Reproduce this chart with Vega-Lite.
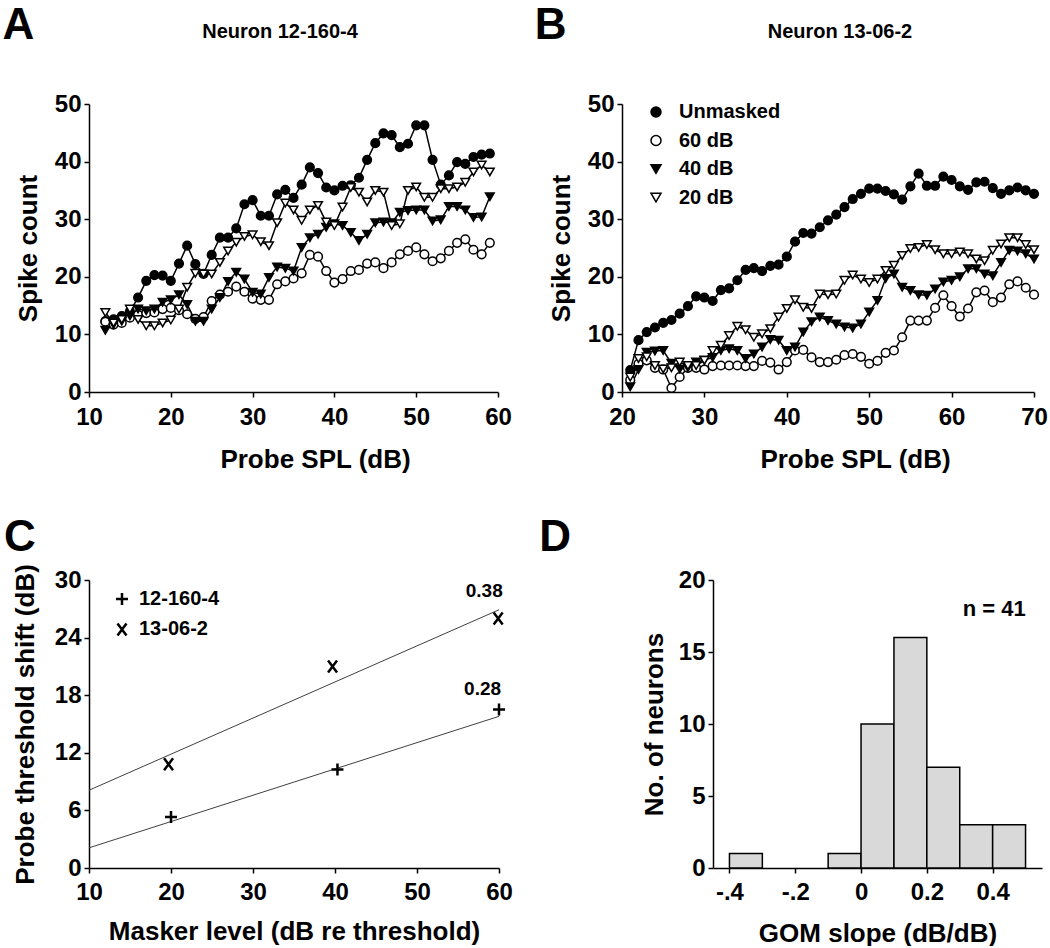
{
"$schema": "https://vega.github.io/schema/vega-lite/v6.json",
"background": "white",
"padding": {"left": 2, "top": 3, "right": 0, "bottom": 0},
"bounds": "flush",
"spacing": 476,
"resolve": {"scale": {"x": "independent", "y": "independent", "shape": "independent", "fill": "independent"}, "legend": {"shape": "independent", "fill": "independent"}},
"config": {
  "font": "Liberation Sans",
  "view": {"stroke": null},
  "axis": {"grid": false, "domainColor": "black", "domainWidth": 1.5, "tickColor": "black", "tickWidth": 1.5, "tickSize": 5, "labelFont": "Liberation Sans", "labelFontSize": 24, "labelFontWeight": "bold", "labelColor": "black", "labelPadding": 3, "labelFlush": false, "labelOverlap": false, "titleFont": "Liberation Sans", "titleFontSize": 26, "titleFontWeight": "bold", "titleColor": "black"},
  "axisX": {"labelPadding": 8},
  "legend": {"labelFont": "Liberation Sans", "labelFontSize": 20, "labelFontWeight": "bold", "labelColor": "black", "padding": 0, "symbolStrokeColor": "black", "symbolStrokeWidth": 1.5, "symbolOpacity": 1},
  "text": {"font": "Liberation Sans", "fontWeight": "bold", "color": "black"}
},
"datasets": {
"A": [
{"s":"Unmasked","x":12,"y":12.3},{"s":"Unmasked","x":13,"y":12.6},{"s":"Unmasked","x":14,"y":13.2},{"s":"Unmasked","x":15,"y":14},{"s":"Unmasked","x":16,"y":16.4},{"s":"Unmasked","x":17,"y":19.3},{"s":"Unmasked","x":18,"y":20.3},{"s":"Unmasked","x":19,"y":20.2},{"s":"Unmasked","x":20,"y":19.3},{"s":"Unmasked","x":21,"y":22.3},{"s":"Unmasked","x":22,"y":25.4},{"s":"Unmasked","x":23,"y":22.2},{"s":"Unmasked","x":24,"y":20.5},{"s":"Unmasked","x":25,"y":23.8},{"s":"Unmasked","x":26,"y":26.8},{"s":"Unmasked","x":27,"y":26.8},{"s":"Unmasked","x":28,"y":28.4},{"s":"Unmasked","x":29,"y":32.6},{"s":"Unmasked","x":30,"y":33.3},{"s":"Unmasked","x":31,"y":30.6},{"s":"Unmasked","x":32,"y":30.6},{"s":"Unmasked","x":33,"y":34.3},{"s":"Unmasked","x":34,"y":35.1},{"s":"Unmasked","x":35,"y":33.7},{"s":"Unmasked","x":36,"y":36},{"s":"Unmasked","x":37,"y":39},{"s":"Unmasked","x":38,"y":38},{"s":"Unmasked","x":39,"y":35.5},{"s":"Unmasked","x":40,"y":35},{"s":"Unmasked","x":41,"y":35.8},{"s":"Unmasked","x":42,"y":35.9},{"s":"Unmasked","x":43,"y":37.2},{"s":"Unmasked","x":44,"y":40.3},{"s":"Unmasked","x":45,"y":43.2},{"s":"Unmasked","x":46,"y":44.9},{"s":"Unmasked","x":47,"y":44.6},{"s":"Unmasked","x":48,"y":42.5},{"s":"Unmasked","x":49,"y":43.1},{"s":"Unmasked","x":50,"y":46.3},{"s":"Unmasked","x":51,"y":46.3},{"s":"Unmasked","x":52,"y":40.3},{"s":"Unmasked","x":53,"y":36},{"s":"Unmasked","x":54,"y":37.6},{"s":"Unmasked","x":55,"y":39.9},{"s":"Unmasked","x":56,"y":39.6},{"s":"Unmasked","x":57,"y":40.8},{"s":"Unmasked","x":58,"y":41.2},{"s":"Unmasked","x":59,"y":41.4},
{"s":"60 dB","x":12,"y":12.2},{"s":"60 dB","x":13,"y":11.7},{"s":"60 dB","x":14,"y":12},{"s":"60 dB","x":15,"y":12.9},{"s":"60 dB","x":16,"y":13.4},{"s":"60 dB","x":17,"y":13.7},{"s":"60 dB","x":18,"y":13.8},{"s":"60 dB","x":19,"y":14.4},{"s":"60 dB","x":20,"y":14.6},{"s":"60 dB","x":21,"y":14.2},{"s":"60 dB","x":22,"y":13.5},{"s":"60 dB","x":23,"y":12.7},{"s":"60 dB","x":24,"y":13},{"s":"60 dB","x":25,"y":15.8},{"s":"60 dB","x":26,"y":16.9},{"s":"60 dB","x":27,"y":17.4},{"s":"60 dB","x":28,"y":18.3},{"s":"60 dB","x":29,"y":17.4},{"s":"60 dB","x":30,"y":16.2},{"s":"60 dB","x":31,"y":16},{"s":"60 dB","x":32,"y":16},{"s":"60 dB","x":33,"y":18.7},{"s":"60 dB","x":34,"y":19.2},{"s":"60 dB","x":35,"y":19.7},{"s":"60 dB","x":36,"y":20.6},{"s":"60 dB","x":37,"y":23.8},{"s":"60 dB","x":38,"y":23.5},{"s":"60 dB","x":39,"y":21},{"s":"60 dB","x":40,"y":19},{"s":"60 dB","x":41,"y":19.6},{"s":"60 dB","x":42,"y":21},{"s":"60 dB","x":43,"y":21.2},{"s":"60 dB","x":44,"y":22.3},{"s":"60 dB","x":45,"y":22.5},{"s":"60 dB","x":46,"y":21.5},{"s":"60 dB","x":47,"y":22.5},{"s":"60 dB","x":48,"y":23.9},{"s":"60 dB","x":49,"y":24.5},{"s":"60 dB","x":50,"y":25.1},{"s":"60 dB","x":51,"y":23.9},{"s":"60 dB","x":52,"y":22.7},{"s":"60 dB","x":53,"y":23.2},{"s":"60 dB","x":54,"y":24.5},{"s":"60 dB","x":55,"y":25.9},{"s":"60 dB","x":56,"y":26.5},{"s":"60 dB","x":57,"y":24.7},{"s":"60 dB","x":58,"y":23.9},{"s":"60 dB","x":59,"y":25.9},
{"s":"40 dB","x":12,"y":10.7},{"s":"40 dB","x":13,"y":11.7},{"s":"40 dB","x":14,"y":12.3},{"s":"40 dB","x":15,"y":13.2},{"s":"40 dB","x":16,"y":14.4},{"s":"40 dB","x":17,"y":14.1},{"s":"40 dB","x":18,"y":14.4},{"s":"40 dB","x":19,"y":15.6},{"s":"40 dB","x":20,"y":16},{"s":"40 dB","x":21,"y":16.9},{"s":"40 dB","x":22,"y":15.2},{"s":"40 dB","x":23,"y":12.3},{"s":"40 dB","x":24,"y":12.3},{"s":"40 dB","x":25,"y":14.4},{"s":"40 dB","x":26,"y":16.4},{"s":"40 dB","x":27,"y":19.2},{"s":"40 dB","x":28,"y":20.8},{"s":"40 dB","x":29,"y":19.6},{"s":"40 dB","x":30,"y":17.3},{"s":"40 dB","x":31,"y":17},{"s":"40 dB","x":32,"y":19.9},{"s":"40 dB","x":33,"y":21.7},{"s":"40 dB","x":34,"y":21.5},{"s":"40 dB","x":35,"y":21},{"s":"40 dB","x":36,"y":25.1},{"s":"40 dB","x":37,"y":26.8},{"s":"40 dB","x":38,"y":27.4},{"s":"40 dB","x":39,"y":28.6},{"s":"40 dB","x":40,"y":29.2},{"s":"40 dB","x":41,"y":28.9},{"s":"40 dB","x":42,"y":27.7},{"s":"40 dB","x":43,"y":26.3},{"s":"40 dB","x":44,"y":27.4},{"s":"40 dB","x":45,"y":29.4},{"s":"40 dB","x":46,"y":29.5},{"s":"40 dB","x":47,"y":29.4},{"s":"40 dB","x":48,"y":31.2},{"s":"40 dB","x":49,"y":31.5},{"s":"40 dB","x":50,"y":31.6},{"s":"40 dB","x":51,"y":31.6},{"s":"40 dB","x":52,"y":29.7},{"s":"40 dB","x":53,"y":29.9},{"s":"40 dB","x":54,"y":32.2},{"s":"40 dB","x":55,"y":32.2},{"s":"40 dB","x":56,"y":31.6},{"s":"40 dB","x":57,"y":30.3},{"s":"40 dB","x":58,"y":30.4},{"s":"40 dB","x":59,"y":33.9},
{"s":"20 dB","x":12,"y":13.8},{"s":"20 dB","x":13,"y":12},{"s":"20 dB","x":14,"y":12.6},{"s":"20 dB","x":15,"y":14.4},{"s":"20 dB","x":16,"y":12.6},{"s":"20 dB","x":17,"y":11.5},{"s":"20 dB","x":18,"y":11.5},{"s":"20 dB","x":19,"y":12},{"s":"20 dB","x":20,"y":12.5},{"s":"20 dB","x":21,"y":14.4},{"s":"20 dB","x":22,"y":18.2},{"s":"20 dB","x":23,"y":20.6},{"s":"20 dB","x":24,"y":20.5},{"s":"20 dB","x":25,"y":20.5},{"s":"20 dB","x":26,"y":22.5},{"s":"20 dB","x":27,"y":24.5},{"s":"20 dB","x":28,"y":26},{"s":"20 dB","x":29,"y":27},{"s":"20 dB","x":30,"y":27.3},{"s":"20 dB","x":31,"y":26.1},{"s":"20 dB","x":32,"y":25.4},{"s":"20 dB","x":33,"y":29.4},{"s":"20 dB","x":34,"y":32.8},{"s":"20 dB","x":35,"y":31.6},{"s":"20 dB","x":36,"y":29.8},{"s":"20 dB","x":37,"y":31.6},{"s":"20 dB","x":38,"y":32.4},{"s":"20 dB","x":39,"y":29.5},{"s":"20 dB","x":40,"y":28.9},{"s":"20 dB","x":41,"y":32.1},{"s":"20 dB","x":42,"y":35.5},{"s":"20 dB","x":43,"y":34.7},{"s":"20 dB","x":44,"y":33},{"s":"20 dB","x":45,"y":35},{"s":"20 dB","x":46,"y":34.7},{"s":"20 dB","x":47,"y":28.9},{"s":"20 dB","x":48,"y":29.2},{"s":"20 dB","x":49,"y":35},{"s":"20 dB","x":50,"y":35.6},{"s":"20 dB","x":51,"y":33.8},{"s":"20 dB","x":52,"y":33.8},{"s":"20 dB","x":53,"y":35.3},{"s":"20 dB","x":54,"y":35.3},{"s":"20 dB","x":55,"y":35.6},{"s":"20 dB","x":56,"y":36.4},{"s":"20 dB","x":57,"y":38.2},{"s":"20 dB","x":58,"y":39.4},{"s":"20 dB","x":59,"y":38.2}
],
"B": [
{"s":"Unmasked","x":21,"y":3.8},{"s":"Unmasked","x":22,"y":9},{"s":"Unmasked","x":23,"y":10.4},{"s":"Unmasked","x":24,"y":11.2},{"s":"Unmasked","x":25,"y":12},{"s":"Unmasked","x":26,"y":12.5},{"s":"Unmasked","x":27,"y":13.6},{"s":"Unmasked","x":28,"y":14.9},{"s":"Unmasked","x":29,"y":16.6},{"s":"Unmasked","x":30,"y":16.4},{"s":"Unmasked","x":31,"y":15.8},{"s":"Unmasked","x":32,"y":17.7},{"s":"Unmasked","x":33,"y":18},{"s":"Unmasked","x":34,"y":19.4},{"s":"Unmasked","x":35,"y":21.2},{"s":"Unmasked","x":36,"y":21.5},{"s":"Unmasked","x":37,"y":21},{"s":"Unmasked","x":38,"y":21.9},{"s":"Unmasked","x":39,"y":22.1},{"s":"Unmasked","x":40,"y":23.5},{"s":"Unmasked","x":41,"y":26.1},{"s":"Unmasked","x":42,"y":27.6},{"s":"Unmasked","x":43,"y":27.5},{"s":"Unmasked","x":44,"y":28.6},{"s":"Unmasked","x":45,"y":29.8},{"s":"Unmasked","x":46,"y":30.8},{"s":"Unmasked","x":47,"y":32.1},{"s":"Unmasked","x":48,"y":33.5},{"s":"Unmasked","x":49,"y":34.4},{"s":"Unmasked","x":50,"y":35.3},{"s":"Unmasked","x":51,"y":35.3},{"s":"Unmasked","x":52,"y":34.9},{"s":"Unmasked","x":53,"y":34.3},{"s":"Unmasked","x":54,"y":33.4},{"s":"Unmasked","x":55,"y":35.7},{"s":"Unmasked","x":56,"y":37.9},{"s":"Unmasked","x":57,"y":35.8},{"s":"Unmasked","x":58,"y":35.8},{"s":"Unmasked","x":59,"y":37.4},{"s":"Unmasked","x":60,"y":36.8},{"s":"Unmasked","x":61,"y":35.7},{"s":"Unmasked","x":62,"y":35.1},{"s":"Unmasked","x":63,"y":36.4},{"s":"Unmasked","x":64,"y":36.5},{"s":"Unmasked","x":65,"y":35.4},{"s":"Unmasked","x":66,"y":34.4},{"s":"Unmasked","x":67,"y":35},{"s":"Unmasked","x":68,"y":35.5},{"s":"Unmasked","x":69,"y":35},{"s":"Unmasked","x":70,"y":34.4},
{"s":"60 dB","x":21,"y":2.1},{"s":"60 dB","x":22,"y":4.9},{"s":"60 dB","x":23,"y":5.5},{"s":"60 dB","x":24,"y":4.2},{"s":"60 dB","x":25,"y":3.9},{"s":"60 dB","x":26,"y":0.7},{"s":"60 dB","x":27,"y":2.6},{"s":"60 dB","x":28,"y":4.2},{"s":"60 dB","x":29,"y":4.2},{"s":"60 dB","x":30,"y":3.9},{"s":"60 dB","x":31,"y":4.5},{"s":"60 dB","x":32,"y":4.6},{"s":"60 dB","x":33,"y":4.6},{"s":"60 dB","x":34,"y":4.6},{"s":"60 dB","x":35,"y":4.5},{"s":"60 dB","x":36,"y":4.5},{"s":"60 dB","x":37,"y":5.4},{"s":"60 dB","x":38,"y":5.1},{"s":"60 dB","x":39,"y":3.9},{"s":"60 dB","x":40,"y":5.2},{"s":"60 dB","x":41,"y":7.2},{"s":"60 dB","x":42,"y":7.3},{"s":"60 dB","x":43,"y":6},{"s":"60 dB","x":44,"y":5.2},{"s":"60 dB","x":45,"y":5.2},{"s":"60 dB","x":46,"y":5.6},{"s":"60 dB","x":47,"y":6.4},{"s":"60 dB","x":48,"y":6.6},{"s":"60 dB","x":49,"y":6.1},{"s":"60 dB","x":50,"y":4.9},{"s":"60 dB","x":51,"y":5.4},{"s":"60 dB","x":52,"y":6.8},{"s":"60 dB","x":53,"y":7.2},{"s":"60 dB","x":54,"y":9.5},{"s":"60 dB","x":55,"y":12.4},{"s":"60 dB","x":56,"y":12.4},{"s":"60 dB","x":57,"y":12.4},{"s":"60 dB","x":58,"y":14.6},{"s":"60 dB","x":59,"y":16.8},{"s":"60 dB","x":60,"y":14.9},{"s":"60 dB","x":61,"y":13.1},{"s":"60 dB","x":62,"y":14.5},{"s":"60 dB","x":63,"y":17.3},{"s":"60 dB","x":64,"y":17.6},{"s":"60 dB","x":65,"y":15.6},{"s":"60 dB","x":66,"y":16.4},{"s":"60 dB","x":67,"y":18.7},{"s":"60 dB","x":68,"y":19.2},{"s":"60 dB","x":69,"y":18.1},{"s":"60 dB","x":70,"y":16.9},
{"s":"40 dB","x":21,"y":0.9},{"s":"40 dB","x":22,"y":3.9},{"s":"40 dB","x":23,"y":6.9},{"s":"40 dB","x":24,"y":7.1},{"s":"40 dB","x":25,"y":7.2},{"s":"40 dB","x":26,"y":5},{"s":"40 dB","x":27,"y":4},{"s":"40 dB","x":28,"y":4.2},{"s":"40 dB","x":29,"y":5.2},{"s":"40 dB","x":30,"y":5.5},{"s":"40 dB","x":31,"y":6},{"s":"40 dB","x":32,"y":7.2},{"s":"40 dB","x":33,"y":7.5},{"s":"40 dB","x":34,"y":7.2},{"s":"40 dB","x":35,"y":5.8},{"s":"40 dB","x":36,"y":6.6},{"s":"40 dB","x":37,"y":7.8},{"s":"40 dB","x":38,"y":9.1},{"s":"40 dB","x":39,"y":9},{"s":"40 dB","x":40,"y":7.2},{"s":"40 dB","x":41,"y":7.8},{"s":"40 dB","x":42,"y":10.4},{"s":"40 dB","x":43,"y":12.2},{"s":"40 dB","x":44,"y":13},{"s":"40 dB","x":45,"y":12.4},{"s":"40 dB","x":46,"y":11.8},{"s":"40 dB","x":47,"y":11.3},{"s":"40 dB","x":48,"y":11.1},{"s":"40 dB","x":49,"y":11.8},{"s":"40 dB","x":50,"y":13.9},{"s":"40 dB","x":51,"y":15.9},{"s":"40 dB","x":52,"y":19.7},{"s":"40 dB","x":53,"y":20.5},{"s":"40 dB","x":54,"y":18.2},{"s":"40 dB","x":55,"y":17.6},{"s":"40 dB","x":56,"y":16.9},{"s":"40 dB","x":57,"y":16.8},{"s":"40 dB","x":58,"y":17.9},{"s":"40 dB","x":59,"y":19.1},{"s":"40 dB","x":60,"y":19.4},{"s":"40 dB","x":61,"y":20},{"s":"40 dB","x":62,"y":21.4},{"s":"40 dB","x":63,"y":21.4},{"s":"40 dB","x":64,"y":20.5},{"s":"40 dB","x":65,"y":20.2},{"s":"40 dB","x":66,"y":22.5},{"s":"40 dB","x":67,"y":24.6},{"s":"40 dB","x":68,"y":24.5},{"s":"40 dB","x":69,"y":24},{"s":"40 dB","x":70,"y":23.1},
{"s":"20 dB","x":21,"y":2.6},{"s":"20 dB","x":22,"y":5.8},{"s":"20 dB","x":23,"y":6.1},{"s":"20 dB","x":24,"y":4.6},{"s":"20 dB","x":25,"y":4},{"s":"20 dB","x":26,"y":4.2},{"s":"20 dB","x":27,"y":5.2},{"s":"20 dB","x":28,"y":4.6},{"s":"20 dB","x":29,"y":4.6},{"s":"20 dB","x":30,"y":5.5},{"s":"20 dB","x":31,"y":7.2},{"s":"20 dB","x":32,"y":8.1},{"s":"20 dB","x":33,"y":9.8},{"s":"20 dB","x":34,"y":11.4},{"s":"20 dB","x":35,"y":10.8},{"s":"20 dB","x":36,"y":9.5},{"s":"20 dB","x":37,"y":10.1},{"s":"20 dB","x":38,"y":11},{"s":"20 dB","x":39,"y":13},{"s":"20 dB","x":40,"y":14.5},{"s":"20 dB","x":41,"y":16},{"s":"20 dB","x":42,"y":14.7},{"s":"20 dB","x":43,"y":14.5},{"s":"20 dB","x":44,"y":17},{"s":"20 dB","x":45,"y":16.9},{"s":"20 dB","x":46,"y":17},{"s":"20 dB","x":47,"y":19.4},{"s":"20 dB","x":48,"y":20.3},{"s":"20 dB","x":49,"y":19.6},{"s":"20 dB","x":50,"y":19},{"s":"20 dB","x":51,"y":19.6},{"s":"20 dB","x":52,"y":21.1},{"s":"20 dB","x":53,"y":22},{"s":"20 dB","x":54,"y":23.7},{"s":"20 dB","x":55,"y":24.9},{"s":"20 dB","x":56,"y":25.1},{"s":"20 dB","x":57,"y":25.6},{"s":"20 dB","x":58,"y":24.7},{"s":"20 dB","x":59,"y":24},{"s":"20 dB","x":60,"y":24},{"s":"20 dB","x":61,"y":24.3},{"s":"20 dB","x":62,"y":24},{"s":"20 dB","x":63,"y":23.1},{"s":"20 dB","x":64,"y":22.8},{"s":"20 dB","x":65,"y":24.6},{"s":"20 dB","x":66,"y":25.7},{"s":"20 dB","x":67,"y":26.8},{"s":"20 dB","x":68,"y":26.8},{"s":"20 dB","x":69,"y":25.6},{"s":"20 dB","x":70,"y":24.7}
],
"C": [
{"n":"12-160-4","x":20,"y":5.3},{"n":"12-160-4","x":40.3,"y":10.25},{"n":"12-160-4","x":60,"y":16.5},
{"n":"13-06-2","x":19.7,"y":10.8},{"n":"13-06-2","x":39.7,"y":21},{"n":"13-06-2","x":59.9,"y":26}
],
"Cfit": [
{"n":"12-160-4","x":10,"y":2.1},{"n":"12-160-4","x":60,"y":15.8},
{"n":"13-06-2","x":10,"y":8.1},{"n":"13-06-2","x":60,"y":26.9}
],
"Clab": [
{"t":"0.38","x":58.2,"y":28.85},{"t":"0.28","x":58.0,"y":18.6}
],
"D": [
{"lo":-0.4,"hi":-0.3,"n":1},{"lo":-0.1,"hi":0,"n":1},{"lo":0,"hi":0.1,"n":10},{"lo":0.1,"hi":0.2,"n":16},{"lo":0.2,"hi":0.3,"n":7},{"lo":0.3,"hi":0.4,"n":3},{"lo":0.4,"hi":0.5,"n":3}
]
},
"vconcat": [
{
"hconcat": [
{
"width": 409, "height": 288,
"layer": [
{"data": {"name": "A"}, "mark": {"type": "line", "color": "black", "strokeWidth": 1.5},
 "encoding": {
  "x": {"field": "x", "type": "quantitative", "scale": {"domain": [10, 60], "nice": false, "zero": false}, "axis": {"values": [10, 20, 30, 40, 50, 60], "title": "Probe SPL (dB)", "titlePadding": 17, "titleX": 226}},
  "y": {"field": "y", "type": "quantitative", "scale": {"domain": [0, 50], "nice": false}, "axis": {"values": [0, 10, 20, 30, 40, 50], "title": "Spike count", "titlePadding": 13}},
  "detail": {"field": "s"}}},
{"data": {"name": "A"}, "mark": {"type": "point", "size": 75, "stroke": "black", "strokeWidth": 1.5, "opacity": 1},
 "encoding": {
  "x": {"field": "x", "type": "quantitative"},
  "y": {"field": "y", "type": "quantitative"},
  "shape": {"field": "s", "type": "nominal", "scale": {"domain": ["Unmasked", "60 dB", "40 dB", "20 dB"], "range": ["circle", "circle", "triangle-down", "triangle-down"]}, "legend": null},
  "fill": {"field": "s", "type": "nominal", "scale": {"domain": ["Unmasked", "60 dB", "40 dB", "20 dB"], "range": ["black", "white", "black", "white"]}, "legend": null}}},
{"data": {"values": [{}]}, "mark": {"type": "text", "fontSize": 44, "fontWeight": "bold", "align": "center", "baseline": "alphabetic"},
 "encoding": {"x": {"datum": 1.38}, "y": {"datum": 61.3}, "text": {"value": "A"}}},
{"data": {"values": [{}]}, "mark": {"type": "text", "fontSize": 20, "fontWeight": "bold", "align": "center", "baseline": "alphabetic"},
 "encoding": {"x": {"datum": 33.35}, "y": {"datum": 61.5}, "text": {"value": "Neuron 12-160-4"}}}
]
},
{
"width": 412, "height": 288,
"layer": [
{"data": {"name": "B"}, "mark": {"type": "line", "color": "black", "strokeWidth": 1.5},
 "encoding": {
  "x": {"field": "x", "type": "quantitative", "scale": {"domain": [20, 70], "nice": false, "zero": false}, "axis": {"values": [20, 30, 40, 50, 60, 70], "title": "Probe SPL (dB)", "titlePadding": 17, "titleX": 233}},
  "y": {"field": "y", "type": "quantitative", "scale": {"domain": [0, 50], "nice": false}, "axis": {"values": [0, 10, 20, 30, 40, 50], "title": "Spike count", "titlePadding": 13}},
  "detail": {"field": "s"}}},
{"data": {"name": "B"}, "mark": {"type": "point", "size": 75, "stroke": "black", "strokeWidth": 1.5, "opacity": 1},
 "encoding": {
  "x": {"field": "x", "type": "quantitative"},
  "y": {"field": "y", "type": "quantitative"},
  "shape": {"field": "s", "type": "nominal", "scale": {"domain": ["Unmasked", "60 dB", "40 dB", "20 dB"], "range": ["circle", "circle", "triangle-down", "triangle-down"]},
   "legend": {"orient": "none", "legendX": 24, "legendY": -2, "title": null, "rowPadding": 8.5, "labelOffset": 13, "symbolSize": 100, "symbolStrokeColor": "black", "symbolStrokeWidth": 1.5,
    "encode": {"symbols": {"update": {"stroke": {"value": "black"}, "strokeWidth": {"value": 1.5}}}}}},
  "fill": {"field": "s", "type": "nominal", "scale": {"domain": ["Unmasked", "60 dB", "40 dB", "20 dB"], "range": ["black", "white", "black", "white"]},
   "legend": {"orient": "none", "legendX": 24, "legendY": -2, "title": null, "rowPadding": 8.5, "labelOffset": 13, "symbolSize": 100, "symbolStrokeColor": "black", "symbolStrokeWidth": 1.5,
    "encode": {"symbols": {"update": {"stroke": {"value": "black"}, "strokeWidth": {"value": 1.5}}}}}}}},
{"data": {"values": [{}]}, "mark": {"type": "text", "fontSize": 44, "fontWeight": "bold", "align": "center", "baseline": "alphabetic"},
 "encoding": {"x": {"datum": 11.34}, "y": {"datum": 61.3}, "text": {"value": "B"}}},
{"data": {"values": [{}]}, "mark": {"type": "text", "fontSize": 20, "fontWeight": "bold", "align": "center", "baseline": "alphabetic"},
 "encoding": {"x": {"datum": 46.45}, "y": {"datum": 61.5}, "text": {"value": "Neuron 13-06-2"}}}
]
}
],
"spacing": 124,
"bounds": "flush",
"resolve": {"scale": {"x": "independent", "y": "independent", "shape": "independent", "fill": "independent"}, "legend": {"shape": "independent", "fill": "independent"}}
},
{
"hconcat": [
{
"width": 410, "height": 288,
"layer": [
{"data": {"name": "Cfit"}, "mark": {"type": "line", "color": "#404040", "strokeWidth": 1},
 "encoding": {
  "x": {"field": "x", "type": "quantitative", "scale": {"domain": [10, 60], "nice": false, "zero": false}, "axis": {"values": [10, 20, 30, 40, 50, 60], "title": "Masker level (dB re threshold)", "titlePadding": 14, "labelPadding": 7}},
  "y": {"field": "y", "type": "quantitative", "scale": {"domain": [0, 30], "nice": false}, "axis": {"values": [0, 6, 12, 18, 24, 30], "title": "Probe threshold shift (dB)", "titlePadding": 16}},
  "detail": {"field": "n"}}},
{"data": {"name": "C"}, "mark": {"type": "point", "size": 144, "stroke": "black", "strokeWidth": 2.5, "opacity": 1, "filled": false},
 "encoding": {
  "x": {"field": "x", "type": "quantitative"},
  "y": {"field": "y", "type": "quantitative"},
  "shape": {"field": "n", "type": "nominal", "scale": {"domain": ["12-160-4", "13-06-2"], "range": ["M-1,0L1,0M0,-1L0,1", "M-0.75,-1L0.75,1M-0.75,1L0.75,-1"]},
   "legend": {"orient": "none", "legendX": 23, "legendY": 9, "title": null, "rowPadding": 8.4, "labelOffset": 7, "symbolSize": 144, "symbolStrokeWidth": 2.5, "symbolFillColor": "transparent"}}}},
{"data": {"name": "Clab"}, "mark": {"type": "text", "fontSize": 19, "fontWeight": "bold", "align": "center", "baseline": "middle"},
 "encoding": {"x": {"field": "x", "type": "quantitative"}, "y": {"field": "y", "type": "quantitative"}, "text": {"field": "t"}}},
{"data": {"values": [{}]}, "mark": {"type": "text", "fontSize": 44, "fontWeight": "bold", "align": "center", "baseline": "alphabetic"},
 "encoding": {"x": {"datum": 1.57}, "y": {"datum": 33.0}, "text": {"value": "C"}}}
]
},
{
"width": 329, "height": 288,
"layer": [
{"data": {"name": "D"}, "mark": {"type": "rect", "fill": "#d9d9d9", "stroke": "black", "strokeWidth": 1.5},
 "encoding": {
  "x": {"field": "lo", "type": "quantitative", "scale": {"domain": [-0.45, 0.55], "nice": false, "zero": false}, "axis": {"values": [-0.4, -0.2, 0, 0.2, 0.4], "labelExpr": "datum.value < 0 ? '-.' + format(abs(datum.value) * 10, '.0f') : (datum.value == 0 ? '0' : format(datum.value, '.1f'))", "title": "GOM slope (dB/dB)", "titlePadding": 16, "labelPadding": 7}},
  "x2": {"field": "hi"},
  "y": {"field": "n", "type": "quantitative", "scale": {"domain": [0, 20], "nice": false}, "axis": {"values": [0, 5, 10, 15, 20], "title": "No. of neurons", "titlePadding": 11}},
  "y2": {"datum": 0}}},
{"data": {"values": [{}]}, "mark": {"type": "text", "fontSize": 22, "fontWeight": "bold", "align": "center", "baseline": "middle"},
 "encoding": {"x": {"datum": 0.405}, "y": {"datum": 18.0}, "text": {"value": "n = 41"}}},
{"data": {"values": [{}]}, "mark": {"type": "text", "fontSize": 44, "fontWeight": "bold", "align": "center", "baseline": "alphabetic"},
 "encoding": {"x": {"datum": -0.93}, "y": {"datum": 22.02}, "text": {"value": "D"}}}
]
}
],
"spacing": 214,
"bounds": "flush",
"resolve": {"scale": {"x": "independent", "y": "independent", "shape": "independent", "fill": "independent"}, "legend": {"shape": "independent", "fill": "independent"}}
}
]
}
